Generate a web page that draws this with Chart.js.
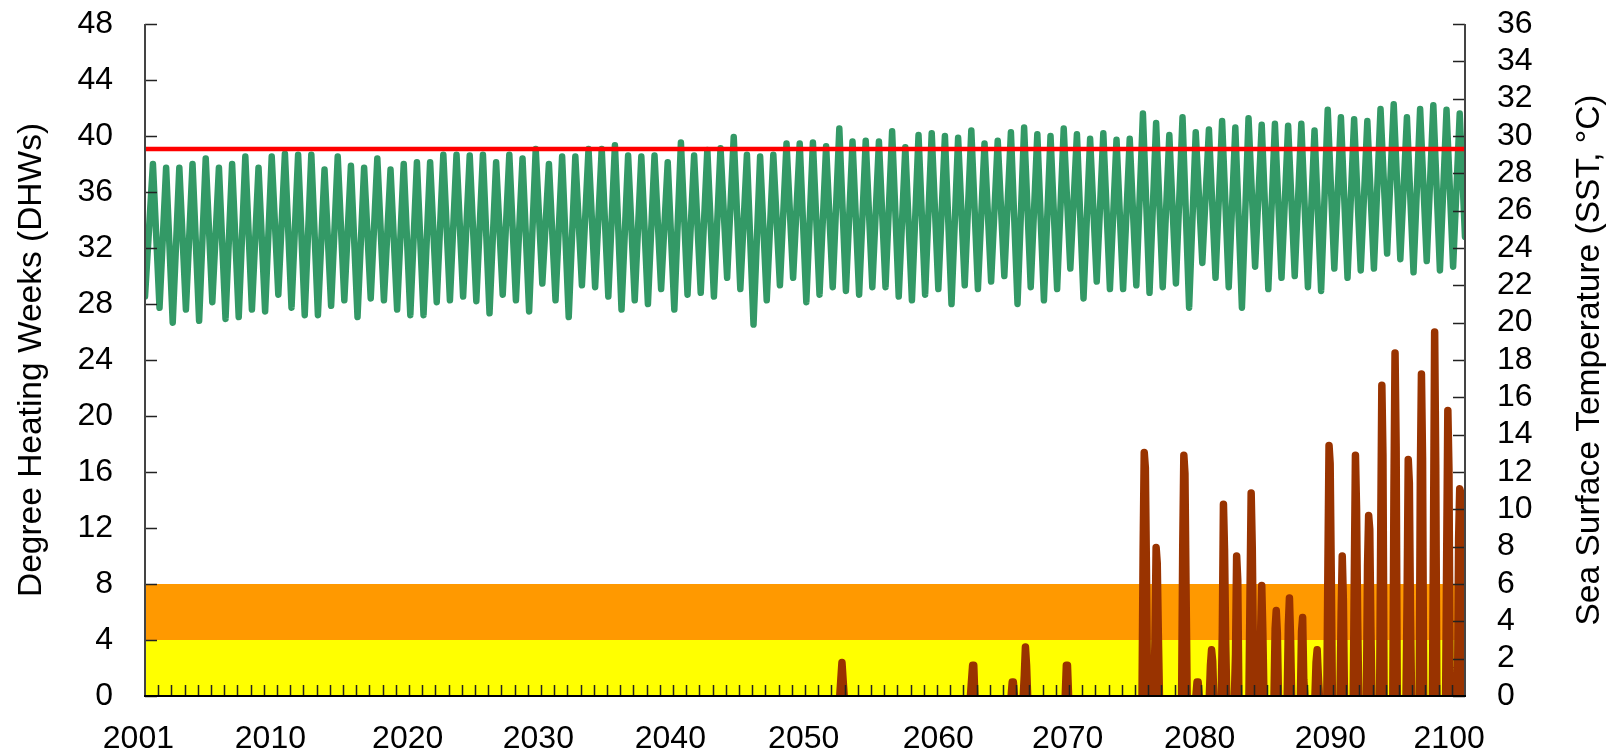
<!DOCTYPE html>
<html><head><meta charset="utf-8">
<script src="https://cdn.jsdelivr.net/npm/chart.js@4.4.0/dist/chart.umd.min.js"></script>
<style>html,body{margin:0;padding:0;background:#fff;overflow:hidden}</style>
</head><body>
<canvas id="c" width="1614" height="752"></canvas>
<script>
// ---------------- DATA ----------------
const startYear = 2001;
const endYear = 2101;
// annual SST minima (early in each year) 2001..2100, deg C
const sstTroughs = [
  21.4,20.8,20.0,20.7,20.1,21.1,20.2,20.3,20.7,20.6,
  21.5,20.8,20.4,20.4,20.9,21.2,20.3,21.3,21.2,20.7,
  20.4,20.4,21.1,21.2,21.4,21.15,20.5,21.5,21.2,20.6,
  22.1,21.2,20.3,22.0,21.9,21.4,20.7,21.2,21.0,21.8,
  20.7,21.5,21.6,21.4,22.4,21.8,19.9,21.2,22.0,22.4,
  21.1,21.5,21.9,21.7,21.5,21.9,21.9,21.4,21.2,21.5,
  21.8,21.0,22.0,21.8,22.2,22.5,21.0,21.9,21.2,21.8,
  22.9,21.3,22.2,21.8,21.8,22.0,21.6,21.9,22.1,20.8,
  23.2,22.4,21.9,20.8,23.0,21.8,22.4,22.5,21.9,21.7,
  22.9,22.4,22.8,22.9,23.7,23.4,22.7,23.3,22.8,23.0
];
// annual SST maxima (mid-year) 2001..2100, deg C
const sstPeaks = [
  28.5,28.3,28.3,28.5,28.8,28.3,28.5,28.9,28.3,28.9,
  29.05,29.0,29.0,28.2,28.9,28.4,28.3,28.8,28.2,28.5,
  28.6,28.6,29.0,29.0,28.95,29.0,28.6,29.0,28.8,29.3,
  28.5,28.9,28.9,29.3,29.3,29.5,28.95,28.9,28.95,28.6,
  29.65,28.95,29.25,29.35,29.95,29.0,28.9,29.0,29.6,29.6,
  29.65,29.45,30.4,29.7,29.75,29.7,30.25,29.4,30.05,30.15,
  30.0,29.9,30.3,29.6,29.75,30.2,30.45,30.1,30.0,30.4,
  30.1,29.85,30.15,29.8,29.85,31.2,30.7,30.05,31.0,30.2,
  30.35,30.8,30.45,30.95,30.6,30.65,30.55,30.65,30.3,31.4,
  31.0,30.9,30.8,31.45,31.7,31.0,31.45,31.65,31.4,31.2
];
const sstEnd = 24.6;
const troughPhase = 0.1, peakPhase = 0.6;
const sstThreshold = 29.3;

// Degree heating week events: time of peak and monthly values
const dhwPeakYears = [
  2053.8,2063.7,2066.7,2067.7,2070.8,
  2076.7,2077.6,2079.7,2080.7,2081.8,2082.7,2083.7,2084.8,2085.6,2086.7,
  2087.7,2088.7,2089.8,2090.7,2091.7,2092.7,2093.7,2094.7,2095.7,2096.7,
  2097.7,2098.7,2099.7,2100.6
];
const dhwShapes = [
  [0,1.2,2.4,1.2,0],[0,1.1,2.2,2.2,0],[0,1.0,1.0,0],[0,1.5,3.5,2.2,0],[0,2.2,2.2,0],
  [0,10.4,17.4,16.3,9.0,0],[0,4.2,10.6,9.5,4.4,0],[0,10.6,17.2,15.9,7.6,0],[0,1.0,1.0,0],
  [0,2.2,3.3,2.5,0],[0,4.6,13.7,10.4,4.0,0],[0,3.0,10.0,8.3,0],[0,7.5,14.5,10.6,3.2,0],
  [0,4.5,7.9,4.6,0],[0,4.8,6.1,4.5,0],[0,5.0,7.0,4.2,0],[0,4.6,5.6,1.2,0],[0,2.4,3.3,1.5,0],
  [0,9.4,17.9,16.6,8.8,0],[0,5.8,10.0,6.9,0],[0,8.6,17.2,13.4,5.4,0],[0,9.3,12.9,11.9,5.0,0],
  [0,11.8,22.2,17.2,0],[0,14.5,24.5,17.8,0],[0,7.2,16.9,15.2,6.0,0],[0,15.6,23.0,17.0,0],
  [0,11.8,26.0,16.5,0],[0,10.5,20.4,16.2,2.0,0],[0,11.2,14.8,14.5,8.0,0]
];
// alert bands on the DHW axis
const dhwBandLevels = [0, 4, 8];
// x tick labels and where they sit (years)
const xTickLabels = ['2001','2010','2020','2030','2040','2050','2060','2070','2080','2090','2100'];
const xTickYears = [2000.5,2010.5,2020.9,2030.8,2040.8,2050.9,2061.1,2070.9,2080.9,2090.8,2099.8];
const leftTitle = 'Degree Heating Weeks (DHWs)';
const rightTitle = 'Sea Surface Temperature (SST, \u00B0C)';

// ---------------- BUILD ----------------
const sstPoints = [];
for (let k = 0; k < sstPeaks.length; k++) {
  sstPoints.push({x: startYear + k + (k === 0 ? 0 : troughPhase), y: sstTroughs[k]});
  sstPoints.push({x: startYear + k + peakPhase, y: sstPeaks[k]});
}
sstPoints.push({x: endYear, y: sstEnd});

const dhwPoints = [];
dhwPeakYears.forEach((py, i) => {
  const shape = dhwShapes[i];
  const iMax = shape.indexOf(Math.max(...shape));
  const t0 = py - iMax / 12;
  shape.forEach((v, j) => dhwPoints.push({x: t0 + j / 12, y: v}));
  dhwPoints.push({x: t0 + shape.length / 12, y: null});
});

const FONT = '"Liberation Sans", Arial, sans-serif';
const TICK_FONT = {family: FONT, size: 32};

const decor = {
  id: 'decor',
  beforeDatasetsDraw(chart) {
    const {ctx, chartArea: a, scales: {y}} = chart;
    const p0 = y.getPixelForValue(dhwBandLevels[0]);
    const p1 = y.getPixelForValue(dhwBandLevels[1]);
    const p2 = y.getPixelForValue(dhwBandLevels[2]);
    ctx.save();
    ctx.fillStyle = '#FFFF00';
    ctx.fillRect(a.left, p1, a.right - a.left, p0 - p1);
    ctx.fillStyle = '#FF9900';
    ctx.fillRect(a.left, p2, a.right - a.left, p1 - p2);
    ctx.restore();
  },
  afterDatasetsDraw(chart) {
    const {ctx, chartArea: a, scales: {x, y, y2}} = chart;
    ctx.save();
    ctx.strokeStyle = '#222';
    ctx.lineWidth = 1.5;
    ctx.beginPath();
    for (let v = y.min; v <= y.max; v += 4) {
      const py = Math.round(y.getPixelForValue(v)) + 0.5;
      ctx.moveTo(a.left, py); ctx.lineTo(a.left + 12, py);
    }
    for (let v = y2.min; v <= y2.max; v += 2) {
      const py = Math.round(y2.getPixelForValue(v)) + 0.5;
      ctx.moveTo(a.right, py); ctx.lineTo(a.right - 12, py);
    }
    for (let yr = startYear + 1; yr < endYear; yr++) {
      const px = Math.round(x.getPixelForValue(yr)) + 0.5;
      ctx.moveTo(px, a.bottom); ctx.lineTo(px, a.bottom - 11);
    }
    ctx.stroke();
    ctx.lineWidth = 2;
    ctx.strokeStyle = '#444';
    ctx.beginPath();
    ctx.moveTo(a.left, a.top); ctx.lineTo(a.left, a.bottom);
    ctx.moveTo(a.right, a.top); ctx.lineTo(a.right, a.bottom);
    ctx.stroke();
    ctx.strokeStyle = '#000';
    ctx.beginPath();
    ctx.moveTo(a.left - 1, a.bottom); ctx.lineTo(a.right + 1, a.bottom);
    ctx.stroke();
    ctx.restore();
  },
  afterDraw(chart) {
    const {ctx, chartArea: a, scales: {y2}} = chart;
    ctx.save();
    ctx.translate(y2.right - 24, (a.top + a.bottom) / 2);
    ctx.rotate(-Math.PI / 2);
    ctx.font = '33.5px ' + FONT;
    ctx.fillStyle = '#000';
    ctx.textAlign = 'center';
    ctx.textBaseline = 'middle';
    ctx.fillText(rightTitle, 0, 0);
    ctx.restore();
  }
};

function noPadV(s, w) { s.width = w; s.paddingTop = 0; s.paddingBottom = 0; }

new Chart(document.getElementById('c'), {
  type: 'line',
  data: {
    datasets: [
      {label: 'Threshold', data: [{x: startYear, y: sstThreshold}, {x: endYear, y: sstThreshold}],
       yAxisID: 'y2', borderColor: '#FF0000', borderWidth: 4.5, pointRadius: 0, tension: 0},
      {label: 'SST', data: sstPoints, yAxisID: 'y2', borderColor: '#339966', borderWidth: 6.5,
       pointRadius: 0, tension: 0, borderJoinStyle: 'round', borderCapStyle: 'round'},
      {label: 'DHW', data: dhwPoints, yAxisID: 'y', borderColor: '#993300', borderWidth: 7.5,
       pointRadius: 0, tension: 0, spanGaps: false, borderJoinStyle: 'round', borderCapStyle: 'round'}
    ]
  },
  options: {
    responsive: false,
    devicePixelRatio: 1,
    animation: false,
    events: [],
    layout: {padding: {top: 24, left: 0, right: 0, bottom: 0}},
    plugins: {legend: {display: false}, tooltip: {enabled: false}},
    scales: {
      x: {
        type: 'linear', min: startYear, max: endYear, position: 'bottom',
        grid: {display: false, drawTicks: false}, border: {display: false},
        afterBuildTicks: s => { s.ticks = xTickYears.map(v => ({value: v})); },
        afterFit: s => { s.height = 56; s.paddingLeft = 0; s.paddingRight = 0; },
        ticks: {autoSkip: false, maxRotation: 0, minRotation: 0, padding: 24, color: '#000',
          font: TICK_FONT, callback: (v, i) => xTickLabels[i]}
      },
      y: {
        type: 'linear', position: 'left', min: 0, max: 48,
        grid: {display: false, drawTicks: false}, border: {display: false},
        afterFit: s => noPadV(s, 145),
        ticks: {stepSize: 4, autoSkip: false, padding: 32, color: '#000', font: TICK_FONT},
        title: {display: true, text: leftTitle, color: '#000', font: {family: FONT, size: 33.5},
          padding: {top: 12, bottom: 0}}
      },
      y2: {
        type: 'linear', position: 'right', min: 0, max: 36,
        grid: {display: false, drawTicks: false}, border: {display: false},
        afterFit: s => noPadV(s, 149),
        ticks: {stepSize: 2, autoSkip: false, padding: 32, color: '#000', font: TICK_FONT}
      }
    }
  },
  plugins: [decor]
});
</script>
</body></html>
